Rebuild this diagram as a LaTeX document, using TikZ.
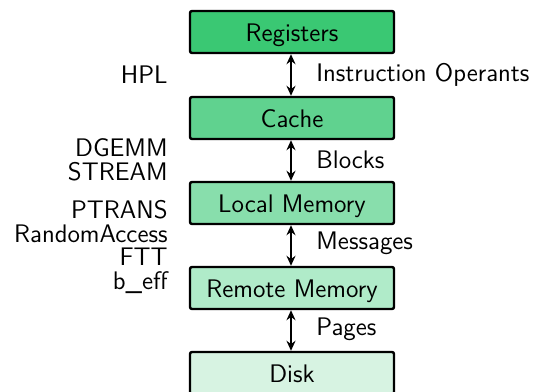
\documentclass[tikz,border=0pt]{standalone}
\usetikzlibrary{arrows.meta}
\renewcommand{\familydefault}{\sfdefault}
\definecolor{cA}{RGB}{58,200,115}
\definecolor{cB}{RGB}{96,210,143}
\definecolor{cC}{RGB}{136,222,172}
\definecolor{cD}{RGB}{176,235,201}
\definecolor{cE}{RGB}{215,243,226}
\tikzset{
  memlevel/.style={draw=black, line width=1.2pt, rounded corners=1pt, minimum width=102pt, minimum height=21pt, inner sep=0pt, text height=9.6pt, text depth=0.4pt, font=\fontsize{12.7}{12.7}\selectfont},
  xfer/.style={{Stealth[length=5pt,width=4.5pt]}-{Stealth[length=5pt,width=4.5pt]}, line width=1pt},
  xlabel/.style={anchor=west, font=\fontsize{12.7}{12.7}\selectfont, inner sep=0pt},
  bench/.style={anchor=east, align=right, font=\fontsize{12.7}{11.8}\selectfont, inner sep=0pt}
}
\begin{document}
\begin{tikzpicture}[x=0.5pt,y=-0.5pt]
\useasboundingbox (0,0) rectangle (537,392);
\node[memlevel, fill=cA] (reg) at (292,32) {Registers};
\node[memlevel, fill=cB] (cache) at (292,118) {Cache};
\node[memlevel, fill=cC] (local) at (292,203) {Local Memory};
\node[memlevel, fill=cD] (remote) at (292,288) {Remote Memory};
\node[memlevel, fill=cE] (disk) at (292,373) {Disk};
\draw[xfer] ([xshift=-0.5pt]reg.south) -- ([xshift=-0.5pt]cache.north);
\draw[xfer] ([xshift=-0.5pt]cache.south) -- ([xshift=-0.5pt]local.north);
\draw[xfer] ([xshift=-0.5pt]local.south) -- ([xshift=-0.5pt]remote.north);
\draw[xfer] ([xshift=-0.5pt]remote.south) -- ([xshift=-0.5pt]disk.north);
\node[xlabel] (l1) at (316,75) {Instruction Operants};
\node[xlabel] (l2) at (316,160) {Blocks};
\node[xlabel] (l3) at (316,243) {Messages};
\node[xlabel] (l4) at (316,329) {Pages};
\node[bench] (b1) at (168,75) {HPL};
\node[bench] (b2) at (168,160) {DGEMM\\STREAM};
\node[bench] (b3) at (168,247) {PTRANS\\RandomAccess\\FTT\\b\_eff};
\end{tikzpicture}
\end{document}
